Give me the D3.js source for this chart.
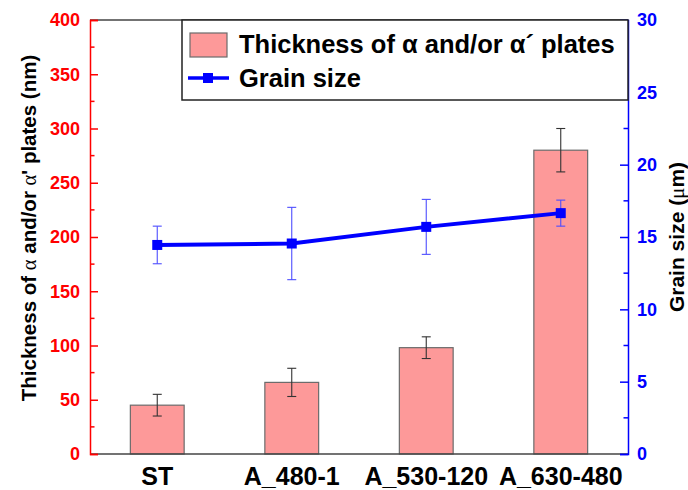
<!DOCTYPE html>
<html>
<head>
<meta charset="utf-8">
<script src="https://cdn.jsdelivr.net/npm/d3@7"></script>
<style>
  html, body { margin: 0; padding: 0; background: #fff; }
  svg { display: block; font-family: "Liberation Sans", Arial, sans-serif; }
</style>
</head>
<body>
<svg id="chart" width="688" height="490"></svg>
<script>
// Sample conditions
const categories = ["ST", "A_480-1", "A_530-120", "A_630-480"];
// Plate thickness (nm) with standard deviation
const thickness = [45, 66, 98, 280];
const thicknessErr = [10, 13, 10, 20];
// Grain size (µm) with standard deviation
const grainSize = [14.45, 14.55, 15.7, 16.65];
const grainErr = [1.3, 2.5, 1.9, 0.9];
// Axis ticks
const leftTicks = [0, 50, 100, 150, 200, 250, 300, 350, 400];
const rightTicks = [0, 5, 10, 15, 20, 25, 30];

const svg = d3.select("#chart");
const L = 90, R = 628, T = 20, B = 454;
const barFill = "#fd9999", barStroke = "#6b6b6b";
const red = "#ff0000", blue = "#0000ff";

const x = d3.scaleBand().domain(categories).range([L, R]).paddingInner(0.6).paddingOuter(0.3);
const yL = d3.scaleLinear().domain([0, 400]).range([B, T]);
const yR = d3.scaleLinear().domain([0, 30]).range([B, T]);
const cx = d => x(d) + x.bandwidth() / 2;

// Frame: top line
svg.append("line").attr("x1", L).attr("x2", R).attr("y1", T).attr("y2", T)
  .attr("stroke", "#444").attr("stroke-width", 1.5);

// Bars
svg.append("g").selectAll("rect").data(categories).join("rect")
  .attr("x", d => x(d)).attr("width", x.bandwidth())
  .attr("y", (d, i) => yL(thickness[i])).attr("height", (d, i) => B - yL(thickness[i]))
  .attr("fill", barFill).attr("stroke", barStroke).attr("stroke-width", 1.2);

// Bar error bars
const eb = svg.append("g").attr("stroke", "#333").attr("stroke-width", 1.1);
categories.forEach((c, i) => {
  const hi = yL(thickness[i] + thicknessErr[i]), lo = yL(thickness[i] - thicknessErr[i]);
  eb.append("line").attr("x1", cx(c)).attr("x2", cx(c)).attr("y1", hi).attr("y2", lo);
  eb.append("line").attr("x1", cx(c) - 4.5).attr("x2", cx(c) + 4.5).attr("y1", hi).attr("y2", hi);
  eb.append("line").attr("x1", cx(c) - 4.5).attr("x2", cx(c) + 4.5).attr("y1", lo).attr("y2", lo);
});

// Bottom axis line
svg.append("line").attr("x1", L).attr("x2", R).attr("y1", B).attr("y2", B)
  .attr("stroke", "#444").attr("stroke-width", 1.5);

// Grain size error bars
const ge = svg.append("g").attr("stroke", "#4d4dff").attr("stroke-width", 1.1);
categories.forEach((c, i) => {
  const hi = yR(grainSize[i] + grainErr[i]), lo = yR(grainSize[i] - grainErr[i]);
  ge.append("line").attr("x1", cx(c)).attr("x2", cx(c)).attr("y1", hi).attr("y2", lo);
  ge.append("line").attr("x1", cx(c) - 4.5).attr("x2", cx(c) + 4.5).attr("y1", hi).attr("y2", hi);
  ge.append("line").attr("x1", cx(c) - 4.5).attr("x2", cx(c) + 4.5).attr("y1", lo).attr("y2", lo);
});

// Grain size line and markers
const line = d3.line().x((d, i) => cx(categories[i])).y(d => yR(d));
svg.append("path").datum(grainSize).attr("d", line)
  .attr("fill", "none").attr("stroke", blue).attr("stroke-width", 4);
svg.append("g").selectAll("rect").data(grainSize).join("rect")
  .attr("x", (d, i) => cx(categories[i]) - 5).attr("y", d => yR(d) - 5)
  .attr("width", 10).attr("height", 10).attr("fill", blue);

// Left axis
const gL = svg.append("g").attr("transform", `translate(${L},0)`)
  .call(d3.axisLeft(yL).tickValues(leftTicks).tickSize(-8).tickPadding(10));
gL.select(".domain").attr("stroke", red).attr("stroke-width", 1.5);
gL.selectAll(".tick line").attr("stroke", red).attr("stroke-width", 1.5);
gL.selectAll(".tick text").attr("fill", red).attr("font-size", 18).attr("font-weight", "bold")
  .attr("font-family", "Liberation Sans, Arial, sans-serif");
svg.append("g").selectAll("line").data(d3.range(25, 400, 50)).join("line")
  .attr("x1", L).attr("x2", L + 4.5).attr("y1", d => yL(d)).attr("y2", d => yL(d))
  .attr("stroke", red).attr("stroke-width", 1.5);

// Right axis
const gR = svg.append("g").attr("transform", `translate(${R},0)`)
  .call(d3.axisRight(yR).tickValues(rightTicks).tickSize(-8).tickPadding(9));
gR.select(".domain").attr("stroke", blue).attr("stroke-width", 1.5);
gR.selectAll(".tick line").attr("stroke", blue).attr("stroke-width", 1.5);
gR.selectAll(".tick text").attr("fill", blue).attr("font-size", 18).attr("font-weight", "bold")
  .attr("font-family", "Liberation Sans, Arial, sans-serif");
svg.append("g").selectAll("line").data(d3.range(2.5, 30, 5)).join("line")
  .attr("x1", R - 4.5).attr("x2", R).attr("y1", d => yR(d)).attr("y2", d => yR(d))
  .attr("stroke", blue).attr("stroke-width", 1.5);

// Category labels
svg.append("g").selectAll("text").data(categories).join("text")
  .attr("x", d => cx(d)).attr("y", 485).attr("text-anchor", "middle")
  .attr("font-size", 25).attr("font-weight", "bold").attr("fill", "#000")
  .text(d => d);

// Axis titles
const tl = svg.append("text").attr("transform", `translate(36,${(T + B) / 2 - 9}) rotate(-90)`)
  .attr("text-anchor", "middle").attr("font-size", 20.5).attr("font-weight", "bold").attr("fill", "#000");
tl.append("tspan").text("Thickness of ");
tl.append("tspan").attr("font-family", "Liberation Serif, Times New Roman, serif").attr("font-weight", "normal").text("α");
tl.append("tspan").text(" and/or ");
tl.append("tspan").attr("font-family", "Liberation Serif, Times New Roman, serif").attr("font-weight", "normal").text("α");
tl.append("tspan").text("' plates (nm)");

const tr = svg.append("text").attr("transform", `translate(684,${(T + B) / 2}) rotate(-90)`)
  .attr("text-anchor", "middle").attr("font-size", 21).attr("font-weight", "bold").attr("fill", "#000");
tr.append("tspan").text("Grain size (");
tr.append("tspan").attr("font-family", "Liberation Serif, Times New Roman, serif").attr("font-weight", "normal").text("μ");
tr.append("tspan").text("m)");

// Legend
const lg = svg.append("g");
lg.append("rect").attr("x", 182).attr("y", 20).attr("width", 446).attr("height", 80)
  .attr("fill", "#fff").attr("stroke", "#222").attr("stroke-width", 1.5);
lg.append("rect").attr("x", 190).attr("y", 33).attr("width", 37).attr("height", 24)
  .attr("fill", barFill).attr("stroke", barStroke).attr("stroke-width", 1.2);
lg.append("text").attr("x", 239).attr("y", 53).attr("font-size", 25.5).attr("font-weight", "bold")
  .text("Thickness of α and/or α´ plates");
lg.append("line").attr("x1", 188).attr("x2", 229).attr("y1", 78).attr("y2", 78)
  .attr("stroke", blue).attr("stroke-width", 3.5);
lg.append("rect").attr("x", 203).attr("y", 73).attr("width", 10).attr("height", 10).attr("fill", blue);
lg.append("text").attr("x", 239).attr("y", 87).attr("font-size", 25.5).attr("font-weight", "bold")
  .text("Grain size");
</script>
</body>
</html>
